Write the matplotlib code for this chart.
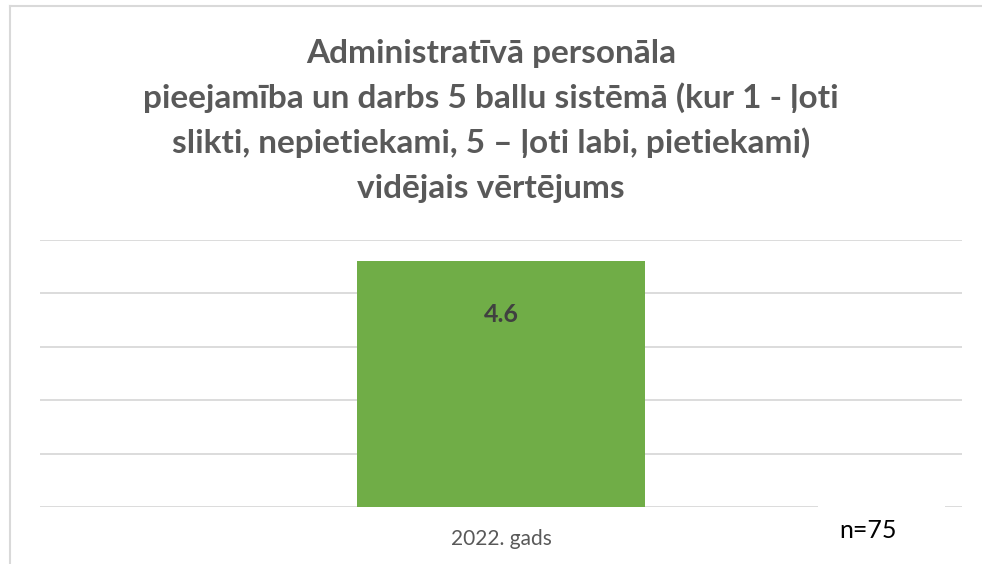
import matplotlib
matplotlib.use("Agg")
import matplotlib.pyplot as plt
from matplotlib.patches import Rectangle
from matplotlib.lines import Line2D

categories = ["2022. gads"]
values = [4.6]
value_labels = ["4.6"]
title_lines = [
    "Administratīvā personāla",
    "pieejamība un darbs 5 ballu sistēmā (kur 1 - ļoti",
    "slikti, nepietiekami, 5 – ļoti labi, pietiekami)",
    "vidējais vērtējums",
]
note = "n=75"

plt.rcParams['font.family'] = ['Lato', 'DejaVu Sans']

W, H = 982, 564
fig = plt.figure(figsize=(W/100, H/100), dpi=100)
fig.patch.set_facecolor('white')

def fx(px): return px / W
def fy(py): return 1 - py / H

ax = fig.add_axes([fx(40), fy(507), fx(962) - fx(40), fy(240) - fy(507)])
ax.set_xlim(-0.5, 0.5)
ax.set_ylim(0, 5)
ax.set_yticks([0, 1, 2, 3, 4, 5])
ax.yaxis.grid(True, color='#D9D9D9', linewidth=1.3)
ax.set_axisbelow(True)
for s in ax.spines.values():
    s.set_visible(False)
ax.tick_params(axis='y', left=False, labelleft=False)
ax.tick_params(axis='x', bottom=False, labelsize=15, labelcolor='#595959', pad=12)

x = list(range(len(categories)))
bars = ax.bar(x, values, width=0.313, color='#70AD47', zorder=3)
ax.set_xticks(x)
ax.set_xticklabels(categories)
for xi, v, lab in zip(x, values, value_labels):
    ax.annotate(lab, (xi, v), xytext=(0, -38), textcoords='offset points',
                ha='center', va='center', fontsize=18, fontweight='bold',
                color='#404040', zorder=4)

# title, one line per baseline
baseline0, step = 63, 45
for i, line in enumerate(title_lines):
    fig.text(0.5, fy(baseline0 + i * step), line, ha='center', va='baseline',
             fontsize=24, fontweight='bold', color='#595959')

# white text box for the note
rect = Rectangle((fx(818), fy(560)), fx(945) - fx(818), fy(500) - fy(560),
                 transform=fig.transFigure, facecolor='white', edgecolor='none', zorder=5)
fig.add_artist(rect)
fig.text(fx(868), fy(530), note, ha='center', va='center', fontsize=18,
         color='black', zorder=6)

# chart border (partially cropped)
fig.add_artist(Line2D([fx(10), 1.0], [fy(6), fy(6)], transform=fig.transFigure,
                      color='#D9D9D9', linewidth=1.5))
fig.add_artist(Line2D([fx(10), fx(10)], [fy(6), 0.0], transform=fig.transFigure,
                      color='#D9D9D9', linewidth=1.5))

fig.savefig("out.png", dpi=100, facecolor='white')
